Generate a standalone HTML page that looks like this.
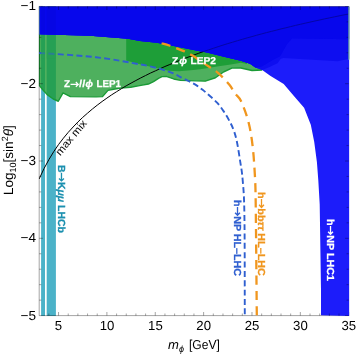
<!DOCTYPE html>
<html><head><meta charset="utf-8"><title>plot</title>
<style>
html,body{margin:0;padding:0;background:#fff;}
body{width:356px;height:354px;position:relative;overflow:hidden;font-family:"Liberation Sans",sans-serif;color:#000;}
.t{position:absolute;white-space:nowrap;line-height:1;text-rendering:geometricPrecision;}
.gs{will-change:transform;}
.op{opacity:0.99;}
.yl{font-size:13.2px;text-align:right;width:30px;left:5.9px;transform:scaleX(1.03);transform-origin:right center;}
.xl{font-size:13.2px;text-align:center;width:30px;}
.b{font-weight:bold;-webkit-text-stroke:0.25px currentColor;}
.ar{width:0.9em;height:0.72em;vertical-align:baseline;overflow:visible;}
.r{transform-origin:0 0;}
i{font-style:italic;}
</style></head><body>
<svg width="356" height="354" viewBox="0 0 356 354" style="position:absolute;left:0;top:0">
<defs><clipPath id="c"><rect x="38.80" y="6.10" width="310.90" height="309.80"/></clipPath></defs>
<g clip-path="url(#c)">
<rect x="41.1" y="6.4" width="3.9" height="310.2" fill="#4bb2c8"/>
<rect x="46.7" y="6.4" width="9.2" height="310.2" fill="#4bb2c8"/>
<g transform="translate(0,0.35)">
<polygon points="39.2,30.0 39.2,84.9 43.0,89.6 47.2,94.3 52.9,98.4 58.3,100.9 63.0,92.6 70.4,96.3 96.0,96.5 102.5,96.3 108.0,90.0 120.5,87.6 130.7,86.9 140.9,85.0 148.4,83.7 153.5,81.3 158.5,78.0 162.0,76.3 167.0,76.2 173.7,78.6 180.5,80.0 189.0,80.3 196.0,80.5 205.3,80.8 215.4,77.4 223.9,71.4 232.4,67.5 240.8,67.6 252.0,70.2 262.2,69.7 262.2,30.0" fill="#4eb05e"/>
<polygon points="126.2,30.0 126.2,60.2 140.0,63.8 157.0,68.0 168.8,70.4 179.0,70.8 190.8,70.0 200.0,68.8 210.0,67.3 215.4,66.4 232.4,63.8 240.8,62.3 247.0,63.7 247.0,30.0" fill="#1e9e38"/>
<polygon points="41.1,30.0 41.1,87.2 43.0,89.6 45.0,91.8 45.0,30.0" fill="#26a054"/>
<polygon points="46.7,30.0 46.7,93.7 47.2,94.3 52.9,98.4 55.9,99.8 55.9,30.0" fill="#26a054"/>
<polyline points="39.5,33.5 39.2,84.9 43.0,89.6 47.2,94.3 52.9,98.4 58.3,100.9 63.0,92.6 70.4,96.3 96.0,96.5 102.5,96.3 108.0,90.0 120.5,87.6 130.7,86.9 140.9,85.0 148.4,83.7 153.5,81.3 158.5,78.0 162.0,76.3 167.0,76.2 173.7,78.6 180.5,80.0 189.0,80.3 196.0,80.5 205.3,80.8 215.4,77.4 223.9,71.4 232.4,67.5 240.8,67.6 252.0,70.2 262.2,69.7" fill="none" stroke="#1a9a36" stroke-width="1.4" stroke-linejoin="round"/>
</g>
</g>
<g stroke="#000" stroke-opacity="0.45" stroke-width="0.8" fill="none">
<path d="M39.20,6.40 V315.60 H348.70"/>
<path d="M48.87,315.60 v-2.1 M58.54,315.60 v-3.6 M68.22,315.60 v-2.1 M77.89,315.60 v-2.1 M87.56,315.60 v-2.1 M97.23,315.60 v-2.1 M106.90,315.60 v-3.6 M116.58,315.60 v-2.1 M126.25,315.60 v-2.1 M135.92,315.60 v-2.1 M145.59,315.60 v-2.1 M155.26,315.60 v-3.6 M164.94,315.60 v-2.1 M174.61,315.60 v-2.1 M184.28,315.60 v-2.1 M193.95,315.60 v-2.1 M203.62,315.60 v-3.6 M213.30,315.60 v-2.1 M222.97,315.60 v-2.1 M232.64,315.60 v-2.1 M242.31,315.60 v-2.1 M251.98,315.60 v-3.6 M261.66,315.60 v-2.1 M271.33,315.60 v-2.1 M281.00,315.60 v-2.1 M290.67,315.60 v-2.1 M300.34,315.60 v-3.6 M310.02,315.60 v-2.1 M319.69,315.60 v-2.1 M329.36,315.60 v-2.1 M339.03,315.60 v-2.1 M348.70,315.60 v-3.6 M39.20,6.40 h3.6 M39.20,21.86 h2.1 M39.20,37.32 h2.1 M39.20,52.78 h2.1 M39.20,68.24 h2.1 M39.20,83.70 h3.6 M39.20,99.16 h2.1 M39.20,114.62 h2.1 M39.20,130.08 h2.1 M39.20,145.54 h2.1 M39.20,161.00 h3.6 M39.20,176.46 h2.1 M39.20,191.92 h2.1 M39.20,207.38 h2.1 M39.20,222.84 h2.1 M39.20,238.30 h3.6 M39.20,253.76 h2.1 M39.20,269.22 h2.1 M39.20,284.68 h2.1 M39.20,300.14 h2.1"/>
</g>
<g clip-path="url(#c)">
<g transform="translate(0,0.35)">
<polygon points="39.2,6.4 39.2,34.0 90.0,35.4 128.0,38.3 140.0,40.6 157.0,42.5 173.9,45.6 190.0,48.8 200.0,50.9 207.0,52.2 224.0,56.4 240.8,60.4 250.0,63.5 255.4,67.1 262.2,69.7 270.2,75.3 283.7,83.7 293.9,95.6 304.1,107.5 310.8,124.4 314.2,141.4 316.9,161.7 318.3,180.0 319.7,204.0 321.0,290.0 321.0,315.0 349.2,315.6 349.2,6.4" fill="#1c1cfa"/>
<polygon points="39.2,6.4 39.2,34.0 90.0,35.4 128.0,38.3 140.0,40.6 157.0,42.5 173.9,45.6 190.0,48.8 200.0,50.9 207.0,52.2 224.0,56.4 240.8,60.4 250.0,63.5 255.4,67.1 262.2,69.7 269.0,67.0 277.5,62.9 280.8,58.5 283.5,57.6 337.7,61.0 349.2,58.3 349.2,6.4" fill="#0e0ef0"/>
<polygon points="39.2,6.4 39.2,34.0 90.0,35.4 128.0,38.3 140.0,40.6 157.0,42.5 173.9,45.6 190.0,48.8 200.0,50.9 207.0,52.2 224.0,56.4 240.8,60.4 250.0,63.5 255.4,67.1 262.0,66.0 272.0,60.0 280.0,56.0 286.8,44.0 292.0,38.0 349.2,39.0 349.2,6.4" fill="#0707ec"/>
</g>
<path d="M39.2,178.9 L44.0,168.6 L48.9,159.6 L53.7,151.7 L58.5,144.6 L63.4,138.2 L68.2,132.4 L73.1,127.0 L77.9,122.0 L82.7,117.4 L87.6,113.1 L92.4,109.0 L97.2,105.2 L102.1,101.5 L106.9,98.1 L111.7,94.8 L116.6,91.7 L121.4,88.7 L126.2,85.8 L131.1,83.1 L135.9,80.5 L140.8,77.9 L145.6,75.5 L150.4,73.1 L155.3,70.9 L160.1,68.7 L164.9,66.5 L169.8,64.5 L174.6,62.5 L179.4,60.5 L184.3,58.6 L189.1,56.8 L194.0,55.0 L198.8,53.2 L203.6,51.5 L208.5,49.9 L213.3,48.3 L218.1,46.7 L223.0,45.1 L227.8,43.6 L232.6,42.2 L237.5,40.7 L242.3,39.3 L247.1,37.9 L252.0,36.6 L256.8,35.2 L261.7,33.9 L266.5,32.6 L271.3,31.4 L276.2,30.2 L281.0,28.9 L285.8,27.8 L290.7,26.6 L295.5,25.4 L300.3,24.3 L305.2,23.2 L310.0,22.1 L314.9,21.0 L319.7,20.0 L324.5,18.9 L329.4,17.9 L334.2,16.9 L339.0,15.9 L343.9,14.9 L348.7,14.0" fill="none" stroke="#000" stroke-width="1.0"/>
<g transform="translate(0,0.35)">
<polygon points="39.2,6.4 39.2,34.0 90.0,35.4 128.0,38.3 140.0,40.6 157.0,42.5 173.9,45.6 190.0,48.8 200.0,50.9 207.0,52.2 224.0,56.4 240.8,60.4 250.0,63.5 255.4,67.1 262.0,66.0 272.0,60.0 280.0,56.0 286.8,44.0 292.0,38.0 349.2,39.0 349.2,6.4" fill="#0707ec" fill-opacity="0.7"/>
<rect x="41.1" y="6" width="3.9" height="28" fill="#000060" fill-opacity="0.06"/>
<rect x="46.7" y="6" width="9.2" height="28" fill="#000060" fill-opacity="0.06"/>
<path d="M39.20,6.05 v2.1 M48.87,6.05 v2.1 M58.54,6.05 v3.6 M68.22,6.05 v2.1 M77.89,6.05 v2.1 M87.56,6.05 v2.1 M97.23,6.05 v2.1 M106.90,6.05 v3.6 M116.58,6.05 v2.1 M126.25,6.05 v2.1 M135.92,6.05 v2.1 M145.59,6.05 v2.1 M155.26,6.05 v3.6 M164.94,6.05 v2.1 M174.61,6.05 v2.1 M184.28,6.05 v2.1 M193.95,6.05 v2.1 M203.62,6.05 v3.6 M213.30,6.05 v2.1 M222.97,6.05 v2.1 M232.64,6.05 v2.1 M242.31,6.05 v2.1 M251.98,6.05 v3.6 M261.66,6.05 v2.1 M271.33,6.05 v2.1 M281.00,6.05 v2.1 M290.67,6.05 v2.1 M300.34,6.05 v3.6 M310.02,6.05 v2.1 M319.69,6.05 v2.1 M329.36,6.05 v2.1 M339.03,6.05 v2.1 M348.70,6.05 v3.6 M348.70,6.05 h-3.6 M348.70,21.51 h-2.1 M348.70,36.97 h-2.1 M348.70,52.43 h-2.1 M348.70,67.89 h-2.1 M348.70,83.35 h-3.6 M348.70,98.81 h-2.1 M348.70,114.27 h-2.1 M348.70,129.73 h-2.1 M348.70,145.19 h-2.1 M348.70,160.65 h-3.6 M348.70,176.11 h-2.1 M348.70,191.57 h-2.1 M348.70,207.03 h-2.1 M348.70,222.49 h-2.1 M348.70,237.95 h-3.6 M348.70,253.41 h-2.1 M348.70,268.87 h-2.1 M348.70,284.33 h-2.1 M348.70,299.79 h-2.1 M348.70,315.25 h-3.6 M39.20,6.25 H348.70 M329.36,315.25 v-2.1 M339.03,315.25 v-2.1" stroke="#000040" stroke-opacity="0.5" stroke-width="0.8" fill="none"/>
<path d="M349.05,6.05 V59.5" stroke="#7cc096" stroke-width="1.3"/>
<path d="M39.10,6.05 V34.3" stroke="#4a9a7a" stroke-width="0.8"/>
<path d="M39.2,52.6 C48.7,53.3 79.2,55.0 96.0,56.9 C112.8,58.8 129.3,62.1 140.0,64.0 C150.7,65.9 154.6,67.0 160.2,68.5 C165.8,70.0 170.4,71.9 173.7,73.2 C177.0,74.5 177.4,75.3 180.0,76.6 C182.6,77.9 186.4,79.6 189.0,80.9 C191.6,82.2 193.5,83.1 195.8,84.5 C198.1,85.9 200.3,87.7 202.6,89.5 C204.9,91.3 206.9,93.0 209.4,95.2 C211.9,97.4 214.9,100.0 217.3,102.6 C219.7,105.2 221.6,107.9 223.7,111.0 C225.8,114.1 228.0,117.8 229.7,121.1 C231.4,124.3 232.7,127.1 233.9,130.5 C235.1,133.9 235.8,136.2 236.9,141.4 C238.0,146.6 239.3,155.3 240.3,161.7 C241.3,168.1 242.0,171.1 242.7,180.0 C243.4,188.9 244.1,192.5 244.4,215.0 C244.8,237.5 244.7,298.3 244.8,315.0" fill="none" stroke="#2f5fd0" stroke-width="1.9" stroke-dasharray="6 3.31"/>
<rect x="41.1" y="50" width="3.9" height="8" fill="#26a054" fill-opacity="0.5"/>
<rect x="46.7" y="50" width="9.2" height="8" fill="#26a054" fill-opacity="0.5"/>
<path d="M161.6,42.9 C163.0,43.3 166.2,44.0 170.0,45.4 C173.8,46.8 180.8,49.4 184.5,51.0 C188.2,52.6 188.2,52.7 192.0,55.0 C195.8,57.3 202.7,62.1 207.0,65.0 C211.3,67.9 214.3,69.3 218.0,72.5 C221.7,75.7 226.1,80.5 229.0,84.0 C231.9,87.5 233.4,90.7 235.4,93.5 C237.4,96.3 238.8,96.1 241.0,100.7 C243.2,105.3 246.4,113.7 248.3,121.0 C250.2,128.3 251.4,135.6 252.5,144.7 C253.6,153.8 254.3,164.4 254.9,175.3 C255.5,186.2 255.5,186.7 255.8,210.0 C256.1,233.3 256.6,297.5 256.8,315.0" fill="none" stroke="#f0961e" stroke-width="2.3" stroke-dasharray="9.25 6.13"/>
</g>
</g>
</svg>
<div class="gs" style="position:absolute;left:0;top:0;width:356px;height:354px">
<div class="t yl" style="top:308.5px">−5</div>
<div class="t yl" style="top:231.2px">−4</div>
<div class="t yl" style="top:153.9px">−3</div>
<div class="t yl" style="top:76.6px">−2</div>
<div class="t yl" style="top:-0.7px">−1</div>
<div class="t xl" style="left:43.4px;top:319.0px">5</div>
<div class="t xl" style="left:92.0px;top:319.0px">10</div>
<div class="t xl" style="left:140.4px;top:319.0px">15</div>
<div class="t xl" style="left:188.7px;top:319.0px">20</div>
<div class="t xl" style="left:237.1px;top:319.0px">25</div>
<div class="t xl" style="left:285.4px;top:319.0px">30</div>
<div class="t xl" style="left:333.8px;top:319.0px">35</div>
<div class="t r" id="xlab1" style="left:168.2px;top:338.1px;font-size:13px;color:#000;transform:scaleX(1.003);"><i>m</i><span style="font-size:9px;position:relative;top:3px"><i>ϕ</i></span></div>
<div class="t r" id="xlab2" style="left:189.2px;top:338.1px;font-size:13px;color:#000;transform:scaleX(0.926);">[GeV]</div>
<div class="t r" id="ylab" style="left:1.6px;top:195.3px;font-size:13.4px;color:#000;transform:rotate(-90deg) scaleX(1.008);">Log<span style="font-size:9px;position:relative;top:3px">10</span>[sin<span style="font-size:9px;position:relative;top:-5px">2</span><i>θ</i>]</div>
<div class="t r b" id="lep1" style="left:63.5px;top:79.8px;font-size:10px;color:#fff;transform:scaleX(0.987);">Z<svg class="ar" viewBox="0 0 90 72"><path d="M6,44 H82 M60,20 L84,44 L60,68" fill="none" stroke="currentColor" stroke-width="13" stroke-linejoin="miter"/></svg><i style="letter-spacing:0.6px">llϕ</i> LEP1</div>
<div class="t r b" id="lep2" style="left:172.2px;top:56.7px;font-size:10px;color:#fff;transform:scaleX(1.021);">Z<i style="margin:0 0.6px 0 1px">ϕ</i> LEP2</div>
<div class="t r" id="mm" style="left:54.2px;top:151.2px;font-size:10.6px;color:#000;transform:rotate(-50deg) scaleX(1.080);">max mix</div>
<div class="t r b" id="lhcb" style="left:64.7px;top:165.4px;font-size:10.3px;color:#1b90af;transform:rotate(90deg) scaleX(1.017);">B<svg class="ar" style="position:relative;top:-0.9px" viewBox="0 0 90 72"><path d="M6,44 H82 M60,20 L84,44 L60,68" fill="none" stroke="currentColor" stroke-width="13" stroke-linejoin="miter"/></svg>K<i>μμ</i> LHCb</div>
<div class="t r b" id="hl1" style="left:240.6px;top:200.0px;font-size:10.2px;color:#2f5fd0;transform:rotate(90deg) scaleX(1.050);">h<svg class="ar" style="position:relative;top:-0.9px" viewBox="0 0 90 72"><path d="M6,44 H82 M60,20 L84,44 L60,68" fill="none" stroke="currentColor" stroke-width="13" stroke-linejoin="miter"/></svg>NP HL–LHC</div>
<div class="t r b" id="hl2" style="left:264.8px;top:192.3px;font-size:10.2px;color:#f0961e;transform:rotate(90deg) scaleX(1.058);">h<svg class="ar" style="position:relative;top:-0.9px" viewBox="0 0 90 72"><path d="M6,44 H82 M60,20 L84,44 L60,68" fill="none" stroke="currentColor" stroke-width="13" stroke-linejoin="miter"/></svg>bb<i>ττ</i> HL–LHC</div>
<div class="t r b" id="lhc1" style="left:333.7px;top:219.2px;font-size:10.2px;color:#fff;transform:rotate(90deg) scaleX(1.054);">h<svg class="ar" style="position:relative;top:-0.9px" viewBox="0 0 90 72"><path d="M6,44 H82 M60,20 L84,44 L60,68" fill="none" stroke="currentColor" stroke-width="13" stroke-linejoin="miter"/></svg>NP LHC1</div>
</div>
</body></html>
